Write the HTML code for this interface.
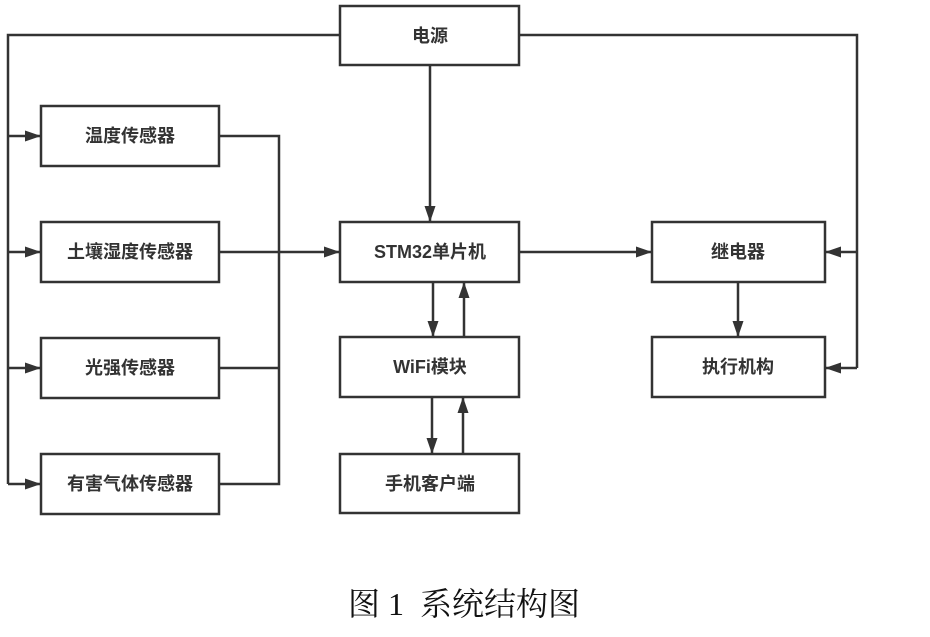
<!DOCTYPE html>
<html><head><meta charset="utf-8"><style>
body{margin:0;background:#fff;width:930px;height:632px;overflow:hidden}
svg text{font-family:"Liberation Sans","Noto Sans CJK SC",sans-serif;font-size:18px;font-weight:bold;fill:#333;text-anchor:middle;dominant-baseline:central}
</style></head><body>
<svg width="930" height="632" xmlns="http://www.w3.org/2000/svg">
<defs><marker id="a" markerWidth="18" markerHeight="14" refX="16" refY="7" orient="auto" markerUnits="userSpaceOnUse"><path d="M0,1.5 L16,7 L0,12.5 z" fill="#333"/></marker></defs>
<g fill="none" stroke="#333" stroke-width="2.5">
<rect x="340" y="6" width="179" height="59"/>
<rect x="41" y="106" width="178" height="60"/>
<rect x="41" y="222" width="178" height="60"/>
<rect x="41" y="338" width="178" height="60"/>
<rect x="41" y="454" width="178" height="60"/>
<rect x="340" y="222" width="179" height="60"/>
<rect x="340" y="337" width="179" height="60"/>
<rect x="340" y="454" width="179" height="59"/>
<rect x="652" y="222" width="173" height="60"/>
<rect x="652" y="337" width="173" height="60"/>
<polyline points="340,35 8,35 8,484"/>
<line x1="8" y1="136" x2="41" y2="136" marker-end="url(#a)"/>
<line x1="8" y1="252" x2="41" y2="252" marker-end="url(#a)"/>
<line x1="8" y1="368" x2="41" y2="368" marker-end="url(#a)"/>
<line x1="8" y1="484" x2="41" y2="484" marker-end="url(#a)"/>
<polyline points="219,136 279,136 279,484 219,484"/>
<line x1="219" y1="368" x2="279" y2="368"/>
<line x1="219" y1="252" x2="340" y2="252" marker-end="url(#a)"/>
<line x1="430" y1="65" x2="430" y2="222" marker-end="url(#a)"/>
<line x1="433" y1="282" x2="433" y2="337" marker-end="url(#a)"/>
<line x1="464" y1="337" x2="464" y2="282" marker-end="url(#a)"/>
<line x1="432" y1="397" x2="432" y2="454" marker-end="url(#a)"/>
<line x1="463" y1="454" x2="463" y2="397" marker-end="url(#a)"/>
<line x1="519" y1="252" x2="652" y2="252" marker-end="url(#a)"/>
<line x1="738" y1="282" x2="738" y2="337" marker-end="url(#a)"/>
<polyline points="519,35 857,35 857,368"/>
<line x1="857" y1="252" x2="825" y2="252" marker-end="url(#a)"/>
<line x1="857" y1="368" x2="825" y2="368" marker-end="url(#a)"/>
</g>
<text x="430" y="36">电源</text>
<text x="130" y="136">温度传感器</text>
<text x="130" y="252">土壤湿度传感器</text>
<text x="130" y="368">光强传感器</text>
<text x="130" y="484">有害气体传感器</text>
<text x="430" y="252">STM32单片机</text>
<text x="430" y="367">WiFi模块</text>
<text x="430" y="484">手机客户端</text>
<text x="738" y="252">继电器</text>
<text x="738" y="367">执行机构</text>
<text x="464" y="604" xml:space="preserve" style="white-space:pre;font-family:'Liberation Serif','Noto Serif CJK SC',serif;font-weight:normal;font-size:32px;fill:#111">图 1  系统结构图</text>
</svg>
</body></html>
